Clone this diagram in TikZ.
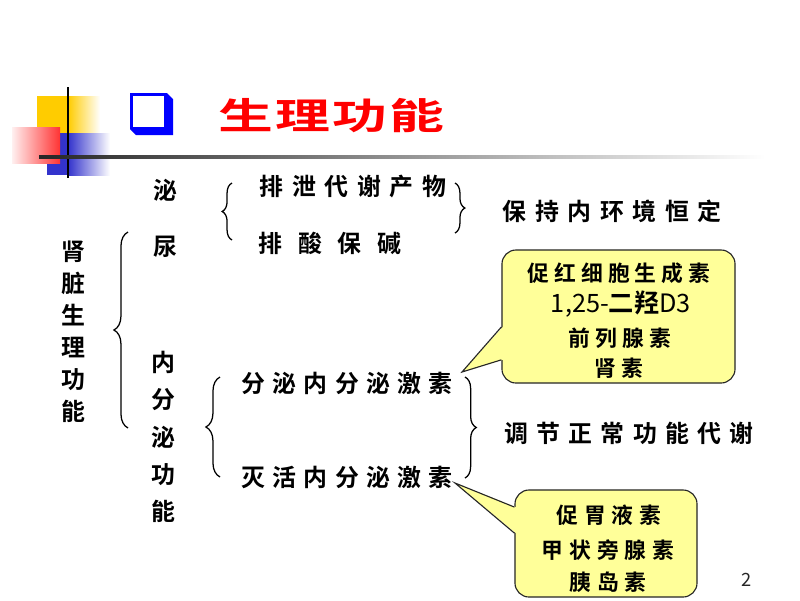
\documentclass[tikz,border=0pt]{standalone}
\usepackage{fontspec}
\newfontfamily\cjk[BoldFont={Noto Sans CJK SC Bold}]{Noto Sans CJK SC}
\usetikzlibrary{decorations.pathreplacing}
\definecolor{boxyellow}{HTML}{FFFF99}
\definecolor{decoyellow}{HTML}{FFCC00}
\definecolor{decoblue}{HTML}{3333CC}
\definecolor{decored}{HTML}{FF3333}
\newcommand{\mainfs}{\cjk\bfseries\fontsize{17}{20}\selectfont}
\newcommand{\callfs}{\cjk\bfseries\fontsize{15.5}{18}\selectfont}

\begin{document}
\begin{tikzpicture}[x=0.025cm,y=-0.025cm,
    txt/.style={inner sep=0pt, font={\mainfs\addfontfeature{LetterSpace=#1}}},
    txt/.default=35,
    vert/.style={inner sep=0pt, align=center, font={\cjk\bfseries\fontsize{17}{#1}\selectfont}},
    brc/.style={decorate, decoration={brace, amplitude=#1}, line width=0.9pt},
    callbox/.style={draw=black!85, fill=boxyellow, rounded corners=10pt, line width=0.8pt, inner sep=0pt},
    calltxt/.style={inner sep=0pt, font={\callfs\addfontfeature{LetterSpace=#1}}},
    ptr/.style={draw=black!85, line width=0.8pt, line join=miter}]
\useasboundingbox (0,0) rectangle (800,600);

% header decoration
\fill[decoyellow] (37,96) rectangle (68,133);
\shade[left color=decoyellow, right color=white] (68,96) rectangle (100,133);
\fill[decoblue] (47,133) rectangle (68,175);
\shade[left color=decoblue, right color=white] (68,133) rectangle (110,175);
\shade[left color=red!6, right color=decored] (12,127) rectangle (60,163);
\draw[line width=1.4pt] (68,87) -- (68,178);
\shade[left color=black!85, right color=white] (39,155.5) rectangle (765,158.5);

% check box and title
\fill[blue] (130,93) -- (167,93) -- (173,99) -- (173,135) -- (136,135) -- (130,129) -- cycle;
\fill[white] (133,96) rectangle (164,127);
\node[text=red, inner sep=0pt, xscale=1.5,
  font={\cjk\bfseries\fontsize{26}{29}\selectfont\addfontfeature{LetterSpace=4}}] (title) at (331,116) {生理功能};

% left columns
\node[vert=22.7] (kidney) at (73,332) {肾\\脏\\生\\理\\功\\能};
\node[txt=0] (mi) at (165,190) {泌};
\node[txt=0] (niao) at (165,247) {尿};
\node[vert=26.4] (endo) at (163,437) {内\\分\\泌\\功\\能};

% texts
\node[txt=36] (excr) at (353,187) {排泄代谢产物};
\node[txt=66] (acid) at (330,243) {排酸保碱};
\node[txt=36] (keep) at (612,211) {保持内环境恒定};
\node[txt=30] (secr) at (347,383) {分泌内分泌激素};
\node[txt=30] (inac) at (347,477) {灭活内分泌激素};
\node[txt=35] (regu) at (629,433) {调节正常功能代谢};

% braces
\draw[brc=10pt] (128,428) -- (128,232);
\draw[brc=7pt] (232,240) -- (232,183);
\draw[brc=7pt] (455,183) -- (455,233);
\draw[brc=10pt] (220,477) -- (220,377);
\draw[brc=8pt] (465,377) -- (465,478);

% callouts
\node[callbox, minimum width=5.825cm, minimum height=3.325cm] (epo) at (618.5,316.5) {};
\coordinate (tipA) at (462,372);
\fill[boxyellow] ([xshift=1pt,yshift=-7.4pt]epo.west) -- (tipA) -- ([xshift=1pt,yshift=-30.8pt]epo.west) -- cycle;
\draw[ptr] ([yshift=-7.4pt]epo.west) -- (tipA) -- ([yshift=-30.8pt]epo.west);
\node[calltxt=23] (epoA) at (619,273) {促红细胞生成素};
\node[inner sep=0pt, font={\cjk\fontsize{18}{20}\selectfont}] (epoB) at (621,304) {1,25-{\bfseries 二羟}D3};
\node[calltxt=23] (epoC) at (620,338) {前列腺素};
\node[calltxt=23] (epoD) at (619,368) {肾素};

\node[callbox, minimum width=4.55cm, minimum height=2.675cm] (gast) at (606,543.5) {};
\coordinate (tipB) at (455,483);
\fill[boxyellow] ([xshift=1pt,yshift=25.9pt]gast.west) -- (tipB) -- ([xshift=1pt,yshift=7.4pt]gast.west) -- cycle;
\draw[ptr] ([yshift=25.9pt]gast.west) -- (tipB) -- ([yshift=7.4pt]gast.west);
\node[calltxt=27] (gastA) at (609,515) {促胃液素};
\node[calltxt=27] (gastB) at (608,550) {甲状旁腺素};
\node[calltxt=27] (gastC) at (608,582) {胰岛素};

\node[inner sep=0pt, text=black!85, font={\cjk\fontsize{13}{15}\selectfont}] (page) at (747,580) {2};
\end{tikzpicture}
\end{document}
